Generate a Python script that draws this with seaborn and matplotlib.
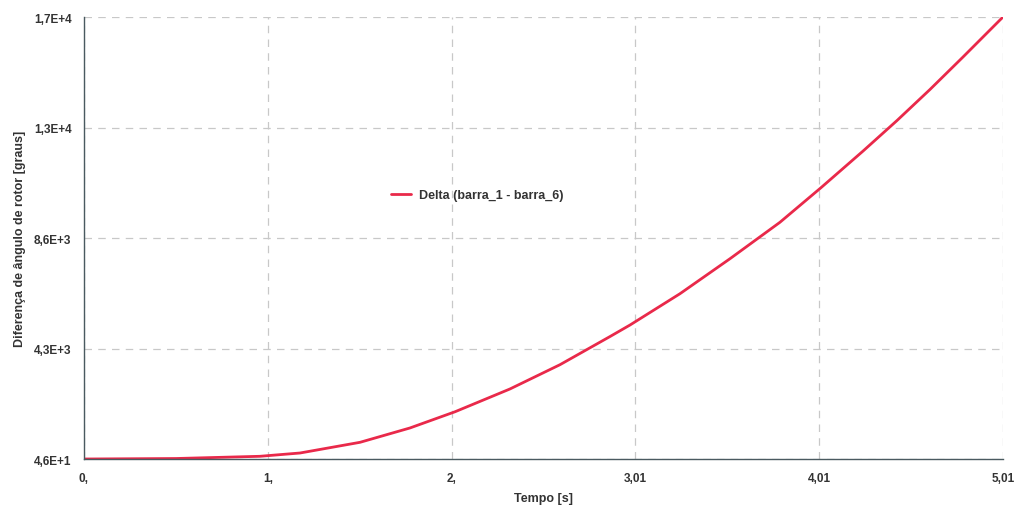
import matplotlib
matplotlib.use("Agg")
import matplotlib.pyplot as plt
import numpy as np
import pandas as pd
import seaborn as sns

# Time samples [s] and rotor angle difference [degrees]
tempo = [0.0, 0.502, 0.959, 1.178, 1.505, 1.777, 2.023, 2.322, 2.595, 2.868,
         2.977, 3.249, 3.522, 3.794, 4.018, 4.247, 4.432, 4.612, 4.792, 5.01]
delta = [46, 65, 151, 279, 694, 1250, 1880, 2763, 3706, 4800,
         5247, 6460, 7820, 9232, 10576, 11996, 13180, 14386, 15646, 17200]

x_ticks = [0.0, 1.002, 2.004, 3.006, 4.008, 5.01]
x_labels = ["0,", "1,", "2,", "3,01", "4,01", "5,01"]
y_ticks = [46, 4334.5, 8623, 12911.5, 17200]
y_labels = ["4,6E+1", "4,3E+3", "8,6E+3", "1,3E+4", "1,7E+4"]

series_name = "Delta (barra_1 - barra_6)"

sns.set_theme(style="white")
plt.rcParams["font.family"] = ["Liberation Sans", "DejaVu Sans"]

df = pd.DataFrame({"Tempo": tempo, "Delta": delta})

fig = plt.figure(figsize=(10.23, 5.06), dpi=100)
ax = fig.add_axes([0.0821, 0.0909, 0.8983, 0.8735])

sns.lineplot(data=df, x="Tempo", y="Delta", ax=ax, color="#e9294a",
             linewidth=2.0, label=series_name)

ax.set_xlim(0, 5.01)
ax.set_ylim(46, 17200)
ax.set_xticks(x_ticks)
ax.set_xticklabels(x_labels)
ax.set_yticks(y_ticks)
ax.set_yticklabels(y_labels)

for lbl in ax.get_xticklabels() + ax.get_yticklabels():
    lbl.set_fontweight("bold")
    lbl.set_fontsize(8.5)
    lbl.set_color("#333333")

ax.grid(True, color="#c8c8c8", linestyle=(0, (6, 5)), linewidth=0.9)
ax.tick_params(axis="both", length=0, pad=9)

for side in ["top", "right"]:
    ax.spines[side].set_visible(False)
for side in ["left", "bottom"]:
    ax.spines[side].set_color("#4a5a60")
    ax.spines[side].set_linewidth(1.0)

ax.set_xlabel("Tempo [s]", fontsize=9, fontweight="bold", color="#333333", labelpad=6)
ax.set_ylabel("Diferença de ângulo de rotor [graus]", fontsize=9,
              fontweight="bold", color="#333333", labelpad=6)

leg = ax.legend(loc="center left", bbox_to_anchor=(0.322, 0.597), frameon=False,
                fontsize=9, handlelength=1.6, handletextpad=0.6)
for t in leg.get_texts():
    t.set_fontweight("bold")
    t.set_color("#333333")

fig.savefig("out.png", dpi=100, facecolor="white")
